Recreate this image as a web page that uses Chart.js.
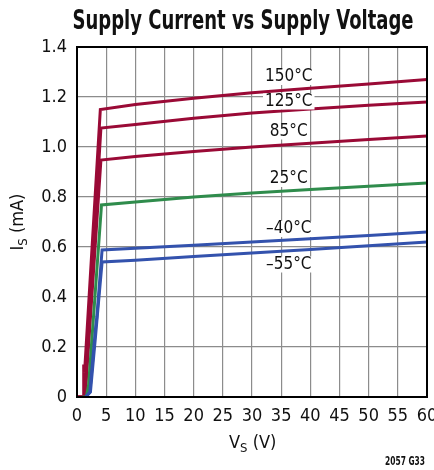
<!DOCTYPE html>
<html>
<head>
<meta charset="utf-8">
<script src="https://cdn.jsdelivr.net/npm/chart.js@4"></script>
<style>
  html, body { margin: 0; padding: 0; background: #fff; }
  #wrap { width: 434px; height: 470px; }
</style>
</head>
<body>
<div id="wrap"><canvas id="chart" width="434" height="470"></canvas></div>
<script>
// Supply voltage (V) and supply current (mA)
const vs150 = [0, 1.1, 1.15, 1.3, 4.0, 10, 20, 30, 40, 50, 60];
const is150 = [0, 0, 0.13, 0.1, 1.15, 1.17, 1.195, 1.217, 1.235, 1.252, 1.27];

const vs125 = [0, 1.3, 4.1, 10, 20, 30, 40, 50, 60];
const is125 = [0, 0, 1.076, 1.09, 1.115, 1.136, 1.152, 1.167, 1.18];

const vs85 = [0, 1.4, 4.1, 10, 20, 30, 40, 50, 60];
const is85 = [0, 0, 0.948, 0.962, 0.982, 1.0, 1.015, 1.03, 1.044];

const vs25 = [0.9, 1.6, 2.0, 4.2, 10, 20, 30, 40, 50, 60];
const is25 = [0, 0, 0.05, 0.768, 0.78, 0.8, 0.816, 0.83, 0.843, 0.856];

const vsM40 = [1.5, 2.2, 3.2, 3.4, 4.3, 10, 20, 30, 40, 50, 60];
const isM40 = [0, 0.02, 0.28, 0.32, 0.588, 0.595, 0.607, 0.62, 0.633, 0.646, 0.66];

const vsM55 = [1.5, 2.3, 3.2, 3.5, 4.3, 10, 20, 30, 40, 50, 60];
const isM55 = [0, 0.02, 0.25, 0.33, 0.54, 0.547, 0.562, 0.576, 0.59, 0.605, 0.62];

const curveLabels = ["150°C", "125°C", "85°C", "25°C", "–40°C", "–55°C"];
const labelX = [36.3, 36.3, 36.3, 36.3, 36.3, 36.3];
const labelY = [1.28, 1.182, 1.062, 0.872, 0.672, 0.53];

const xTicks = [0, 5, 10, 15, 20, 25, 30, 35, 40, 45, 50, 55, 60];
const yTicks = [0, 0.2, 0.4, 0.6, 0.8, 1.0, 1.2, 1.4];

const RED = "#9a0a36";
const GREEN = "#2f8c4c";
const BLUE = "#3352ad";
const FONT = "'DejaVu Sans Condensed', 'Liberation Sans', sans-serif";

function pts(xs, ys) {
    return xs.map((x, i) => ({ x: x, y: ys[i] }));
}

function series(xs, ys, color) {
    return {
        data: pts(xs, ys),
        borderColor: color,
        borderWidth: 3,
        pointRadius: 0,
        tension: 0,
        fill: false,
    };
}

// draw text squeezed horizontally so it fills a given width
function squeezed(ctx, text, cx, y, width) {
    const w = ctx.measureText(text).width;
    const k = Math.min(1, width / w);
    ctx.save();
    ctx.translate(cx, y);
    ctx.scale(k, 1);
    ctx.fillText(text, 0, 0);
    ctx.restore();
}

// titles, axis titles with subscripts, curve labels, figure number
const textPlugin = {
    id: "texts",
    afterDatasetsDraw(chart) {
        const ctx = chart.ctx;
        const xs = chart.scales.x;
        const ys = chart.scales.y;
        ctx.save();
        ctx.font = "17px " + FONT;
        ctx.textAlign = "center";
        ctx.textBaseline = "middle";
        // curve labels with white boxes over the grid
        curveLabels.forEach((t, i) => {
            const px = xs.getPixelForValue(labelX[i]);
            const py = ys.getPixelForValue(labelY[i]);
            const w = ctx.measureText(t).width;
            ctx.fillStyle = "#fff";
            ctx.fillRect(px - w / 2 - 2, py - 8, w + 4, 16);
            ctx.fillStyle = "#111";
            ctx.fillText(t, px, py);
        });
        ctx.restore();
    },
    afterDraw(chart) {
        const ctx = chart.ctx;
        ctx.save();
        ctx.fillStyle = "#111";

        // main title
        ctx.font = "bold 27px " + FONT;
        ctx.textAlign = "center";
        ctx.textBaseline = "alphabetic";
        squeezed(ctx, "Supply Current vs Supply Voltage", 243, 29, 341);

        // x axis title: VS (V)
        ctx.font = "18px " + FONT;
        ctx.textAlign = "left";
        let x0 = 229;
        ctx.fillText("V", x0, 448);
        x0 += ctx.measureText("V").width;
        ctx.font = "13px " + FONT;
        ctx.fillText("S", x0, 452);
        x0 += ctx.measureText("S").width;
        ctx.font = "18px " + FONT;
        ctx.fillText(" (V)", x0, 448);

        // y axis title: IS (mA)
        ctx.translate(23, 222);
        ctx.rotate(-Math.PI / 2);
        ctx.font = "18px " + FONT;
        const wI = ctx.measureText("I").width;
        const wP = ctx.measureText(" (mA)").width;
        ctx.font = "13px " + FONT;
        const wS = ctx.measureText("S").width;
        let y0 = -(wI + wS + wP) / 2;
        ctx.font = "18px " + FONT;
        ctx.fillText("I", y0, 0);
        y0 += wI;
        ctx.font = "13px " + FONT;
        ctx.fillText("S", y0, 4);
        y0 += wS;
        ctx.font = "18px " + FONT;
        ctx.fillText(" (mA)", y0, 0);
        ctx.setTransform(1, 0, 0, 1, 0, 0);

        // figure number
        ctx.font = "bold 12px " + FONT;
        ctx.textAlign = "center";
        squeezed(ctx, "2057 G33", 405, 465, 40);
        ctx.restore();
    },
};

document.addEventListener("DOMContentLoaded", function () {
    const ctx = document.getElementById("chart").getContext("2d");
    new Chart(ctx, {
        type: "line",
        data: {
            datasets: [
                series(vsM55, isM55, BLUE),
                series(vsM40, isM40, BLUE),
                series(vs25, is25, GREEN),
                series(vs85, is85, RED),
                series(vs125, is125, RED),
                series(vs150, is150, RED),
            ],
        },
        options: {
            responsive: false,
            animation: false,
            layout: { padding: { top: 47, left: 0, right: 7, bottom: 0 } },
            plugins: {
                legend: { display: false },
                tooltip: { enabled: false },
                title: { display: false },
            },
            scales: {
                x: {
                    type: "linear",
                    min: 0,
                    max: 60,
                    afterBuildTicks: (s) => { s.ticks = xTicks.map((v) => ({ value: v })); },
                    afterFit: (s) => { s.height = 73; s.paddingLeft = 0; s.paddingRight = 0; },
                    grid: { color: "#8c8c8c", lineWidth: 1.2, drawTicks: false },
                    border: { color: "#000", width: 2 },
                    ticks: {
                        color: "#111",
                        padding: 9,
                        maxRotation: 0,
                        font: { family: FONT, size: 18 },
                    },
                },
                y: {
                    min: 0,
                    max: 1.4,
                    afterBuildTicks: (s) => { s.ticks = yTicks.map((v) => ({ value: v })); },
                    afterFit: (s) => { s.width = 77; },
                    grid: { color: "#8c8c8c", lineWidth: 1.2, drawTicks: false },
                    border: { color: "#000", width: 2 },
                    ticks: {
                        color: "#111",
                        padding: 10,
                        font: { family: FONT, size: 18 },
                        callback: (v) => (v === 0 ? "0" : v.toFixed(1)),
                    },
                },
            },
        },
        plugins: [
            textPlugin,
            {
                id: "frame",
                afterDatasetsDraw(chart) {
                    const a = chart.chartArea;
                    const c = chart.ctx;
                    c.save();
                    c.strokeStyle = "#000";
                    c.lineWidth = 2;
                    c.strokeRect(a.left, a.top, a.right - a.left, a.bottom - a.top);
                    c.restore();
                },
            },
        ],
    });
});
</script>
</body>
</html>
